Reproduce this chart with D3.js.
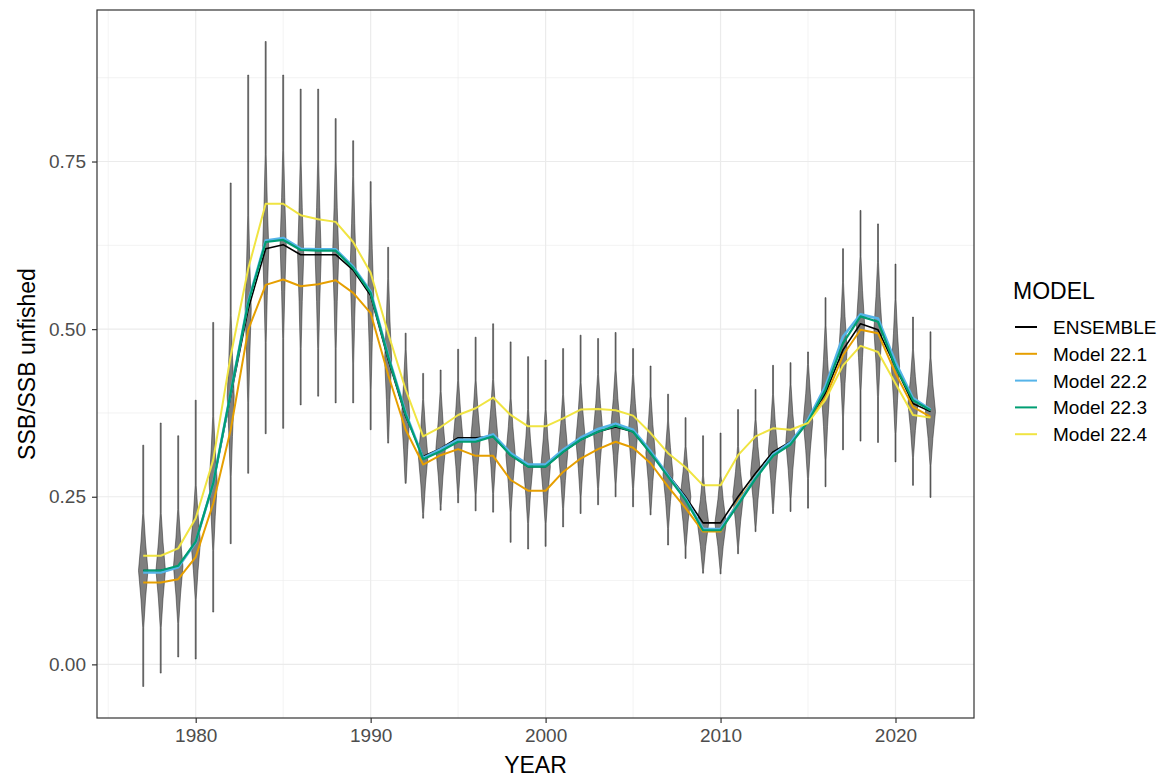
<!DOCTYPE html>
<html>
<head>
<meta charset="utf-8">
<script src="https://cdn.jsdelivr.net/npm/d3@7"></script>
<style>
body { margin: 0; background: #fff; }
text { font-family: "Liberation Sans", Arial, sans-serif; }
</style>
</head>
<body>
<div id="chart"></div>
<script>
// years on the x axis
var years = [1977, 1978, 1979, 1980, 1981, 1982, 1983, 1984, 1985, 1986, 1987, 1988, 1989, 1990,
    1991, 1992, 1993, 1994, 1995, 1996, 1997, 1998, 1999, 2000, 2001, 2002, 2003, 2004, 2005, 2006,
    2007, 2008, 2009, 2010, 2011, 2012, 2013, 2014, 2015, 2016, 2017, 2018, 2019, 2020, 2021, 2022];

// model series (SSB / SSB unfished)
var ensemble = [0.140, 0.140, 0.146, 0.182, 0.270, 0.400, 0.530, 0.620, 0.626, 0.611, 0.611, 0.611, 0.588, 0.550,
    0.455, 0.370, 0.310, 0.322, 0.338, 0.338, 0.340, 0.312, 0.295, 0.295, 0.317, 0.335, 0.347, 0.354, 0.347, 0.315,
    0.283, 0.250, 0.211, 0.211, 0.250, 0.285, 0.317, 0.332, 0.362, 0.405, 0.469, 0.508, 0.499, 0.444, 0.389, 0.377];
var model221 = [0.122, 0.122, 0.127, 0.160, 0.240, 0.350, 0.499, 0.566, 0.574, 0.564, 0.567, 0.573, 0.554, 0.524,
    0.432, 0.350, 0.298, 0.312, 0.321, 0.311, 0.311, 0.275, 0.259, 0.259, 0.287, 0.307, 0.321, 0.332, 0.323, 0.300,
    0.265, 0.233, 0.198, 0.198, 0.243, 0.280, 0.313, 0.330, 0.362, 0.398, 0.461, 0.499, 0.494, 0.434, 0.384, 0.369];
var model222 = [0.137, 0.137, 0.145, 0.182, 0.270, 0.405, 0.541, 0.632, 0.636, 0.620, 0.619, 0.619, 0.593, 0.556,
    0.461, 0.375, 0.308, 0.321, 0.335, 0.335, 0.343, 0.315, 0.298, 0.298, 0.320, 0.338, 0.351, 0.359, 0.350, 0.318,
    0.282, 0.247, 0.202, 0.202, 0.240, 0.279, 0.313, 0.331, 0.365, 0.415, 0.489, 0.522, 0.516, 0.451, 0.397, 0.380];
var model223 = [0.140, 0.140, 0.147, 0.183, 0.270, 0.405, 0.539, 0.630, 0.633, 0.618, 0.617, 0.617, 0.591, 0.554,
    0.459, 0.373, 0.306, 0.318, 0.332, 0.332, 0.340, 0.312, 0.295, 0.295, 0.317, 0.335, 0.347, 0.356, 0.347, 0.315,
    0.280, 0.245, 0.200, 0.200, 0.238, 0.277, 0.311, 0.328, 0.362, 0.410, 0.479, 0.519, 0.511, 0.444, 0.394, 0.379];
var model224 = [0.162, 0.162, 0.173, 0.218, 0.305, 0.460, 0.590, 0.687, 0.687, 0.670, 0.664, 0.660, 0.630, 0.584,
    0.494, 0.410, 0.340, 0.354, 0.372, 0.382, 0.398, 0.372, 0.355, 0.355, 0.367, 0.380, 0.381, 0.379, 0.371, 0.345,
    0.315, 0.294, 0.267, 0.267, 0.312, 0.340, 0.352, 0.350, 0.360, 0.395, 0.446, 0.475, 0.466, 0.419, 0.372, 0.368];

// violin extents: lowest, highest, half-height of the thick body
var violinLo = [-0.033, -0.013, 0.011, 0.008, 0.078, 0.180, 0.285, 0.344, 0.352, 0.387, 0.400, 0.390, 0.390, 0.350,
    0.330, 0.270, 0.218, 0.230, 0.241, 0.229, 0.227, 0.182, 0.172, 0.176, 0.205, 0.225, 0.238, 0.250, 0.235, 0.223,
    0.178, 0.158, 0.136, 0.135, 0.165, 0.198, 0.225, 0.228, 0.233, 0.265, 0.320, 0.333, 0.331, 0.302, 0.267, 0.249];
var violinHi = [0.327, 0.360, 0.341, 0.394, 0.510, 0.718, 0.879, 0.929, 0.879, 0.858, 0.858, 0.814, 0.781, 0.720,
    0.622, 0.494, 0.434, 0.439, 0.470, 0.488, 0.508, 0.481, 0.459, 0.454, 0.471, 0.491, 0.486, 0.495, 0.471, 0.445,
    0.403, 0.368, 0.341, 0.345, 0.380, 0.410, 0.446, 0.450, 0.466, 0.547, 0.620, 0.677, 0.657, 0.597, 0.518, 0.496];
var violinBody = [0.085, 0.085, 0.085, 0.085, 0.100, 0.120, 0.140, 0.140, 0.140, 0.140, 0.140, 0.140, 0.140, 0.140,
    0.120, 0.100, 0.085, 0.085, 0.085, 0.085, 0.085, 0.085, 0.085, 0.085, 0.085, 0.085, 0.085, 0.085, 0.085, 0.085,
    0.080, 0.075, 0.070, 0.070, 0.075, 0.080, 0.085, 0.085, 0.085, 0.100, 0.100, 0.100, 0.100, 0.100, 0.080, 0.080];

var modelNames = ["ENSEMBLE", "Model 22.1", "Model 22.2", "Model 22.3", "Model 22.4"];
var modelColors = ["#000000", "#E69F00", "#56B4E9", "#009E73", "#F0E442"];

var xTicks = [1980, 1990, 2000, 2010, 2020];
var xMinor = [1975, 1985, 1995, 2005, 2015];
var yTicks = [0, 0.25, 0.5, 0.75];
var yTickLabels = ["0.00", "0.25", "0.50", "0.75"];
var yMinor = [0.125, 0.375, 0.625, 0.875];

window.onload = drawChart;

function drawChart(){

    var width = 1161, height = 779;
    var panel = {left: 97, right: 974, top: 10, bottom: 718};

    var svg = d3.select("#chart")
        .append("svg")
        .attr("width", width)
        .attr("height", height);

    var x = d3.scaleLinear()
        .domain([1974.358, 2024.487])
        .range([panel.left, panel.right]);

    var y = d3.scaleLinear()
        .domain([-0.08, 0.976])
        .range([panel.bottom, panel.top]);

    //grid
    var grid = svg.append("g");
    grid.selectAll(".xminor").data(xMinor).enter().append("line")
        .attr("x1", d => x(d)).attr("x2", d => x(d))
        .attr("y1", panel.top).attr("y2", panel.bottom)
        .attr("stroke", "#EBEBEB").attr("stroke-width", 0.6);
    grid.selectAll(".yminor").data(yMinor).enter().append("line")
        .attr("y1", d => y(d)).attr("y2", d => y(d))
        .attr("x1", panel.left).attr("x2", panel.right)
        .attr("stroke", "#EBEBEB").attr("stroke-width", 0.6);
    grid.selectAll(".xmajor").data(xTicks).enter().append("line")
        .attr("x1", d => x(d)).attr("x2", d => x(d))
        .attr("y1", panel.top).attr("y2", panel.bottom)
        .attr("stroke", "#EBEBEB").attr("stroke-width", 1.2);
    grid.selectAll(".ymajor").data(yTicks).enter().append("line")
        .attr("y1", d => y(d)).attr("y2", d => y(d))
        .attr("x1", panel.left).attr("x2", panel.right)
        .attr("stroke", "#EBEBEB").attr("stroke-width", 1.2);

    //violins
    var tail = 0.5;
    var outline = d3.line();
    svg.append("g").selectAll("path")
        .data(years)
        .enter()
        .append("path")
        .attr("d", function(yr, i){
            var mid = ensemble[i], b = violinBody[i];
            var w = 0.36 / b;
            var lo = violinLo[i], hi = violinHi[i];
            var prof = [
                [lo, tail],
                [Math.max(lo, mid - b), tail],
                [mid - b / 2, tail + w * 0.42],
                [mid, tail + w],
                [mid + b / 2, tail + w * 0.42],
                [Math.min(hi, mid + b), tail],
                [hi, tail]
            ];
            var cx = x(yr);
            var pts = prof.map(p => [cx + p[1], y(p[0])])
                .concat(prof.slice().reverse().map(p => [cx - p[1], y(p[0])]));
            return outline(pts) + "Z";
        })
        .attr("fill", "#7F7F7F")
        .attr("stroke", "#222")
        .attr("stroke-width", 0.5);

    //model lines
    var series = [ensemble, model221, model222, model223, model224];
    var widths = [1.6, 2, 2.6, 2.2, 2];
    var line = d3.line()
        .x((d, i) => x(years[i]))
        .y(d => y(d));
    series.forEach(function(s, k){
        svg.append("path")
            .datum(s)
            .attr("d", line)
            .attr("fill", "none")
            .attr("stroke", modelColors[k])
            .attr("stroke-width", widths[k])
            .attr("stroke-linejoin", "round");
    });

    //panel border
    svg.append("rect")
        .attr("x", panel.left).attr("y", panel.top)
        .attr("width", panel.right - panel.left)
        .attr("height", panel.bottom - panel.top)
        .attr("fill", "none")
        .attr("stroke", "#333333")
        .attr("stroke-width", 1.2);

    //axes
    var xAxis = d3.axisBottom(x).tickValues(xTicks).tickFormat(d3.format("d")).tickSize(5).tickPadding(6);
    var gx = svg.append("g")
        .attr("transform", "translate(0," + panel.bottom + ")")
        .call(xAxis);
    var yAxis = d3.axisLeft(y).tickValues(yTicks).tickFormat((d, i) => yTickLabels[i]).tickSize(5).tickPadding(6);
    var gy = svg.append("g")
        .attr("transform", "translate(" + panel.left + ",0)")
        .call(yAxis);
    [gx, gy].forEach(function(g){
        g.select(".domain").remove();
        g.selectAll(".tick line").attr("stroke", "#333333").attr("stroke-width", 1.2);
        g.selectAll(".tick text")
            .attr("fill", "#4D4D4D")
            .style("font-size", "19px")
            .style("font-family", "'Liberation Sans', Arial, sans-serif");
    });

    //axis titles
    svg.append("text")
        .attr("x", (panel.left + panel.right) / 2)
        .attr("y", 773)
        .attr("text-anchor", "middle")
        .style("font-size", "23px")
        .text("YEAR");
    svg.append("text")
        .attr("transform", "translate(35," + ((panel.top + panel.bottom) / 2) + ") rotate(-90)")
        .attr("text-anchor", "middle")
        .style("font-size", "23px")
        .text("SSB/SSB unfished");

    //legend
    var legend = svg.append("g");
    legend.append("text")
        .attr("x", 1013).attr("y", 299)
        .style("font-size", "23px")
        .text("MODEL");
    var items = legend.selectAll(".item")
        .data(modelNames)
        .enter()
        .append("g")
        .attr("transform", (d, i) => "translate(0," + (327 + i * 26.8) + ")");
    items.append("line")
        .attr("x1", 1015).attr("x2", 1037)
        .attr("stroke", (d, i) => modelColors[i])
        .attr("stroke-width", 2);
    items.append("text")
        .attr("x", 1053).attr("y", 7)
        .style("font-size", "19px")
        .text(d => d);
};
</script>
</body>
</html>
